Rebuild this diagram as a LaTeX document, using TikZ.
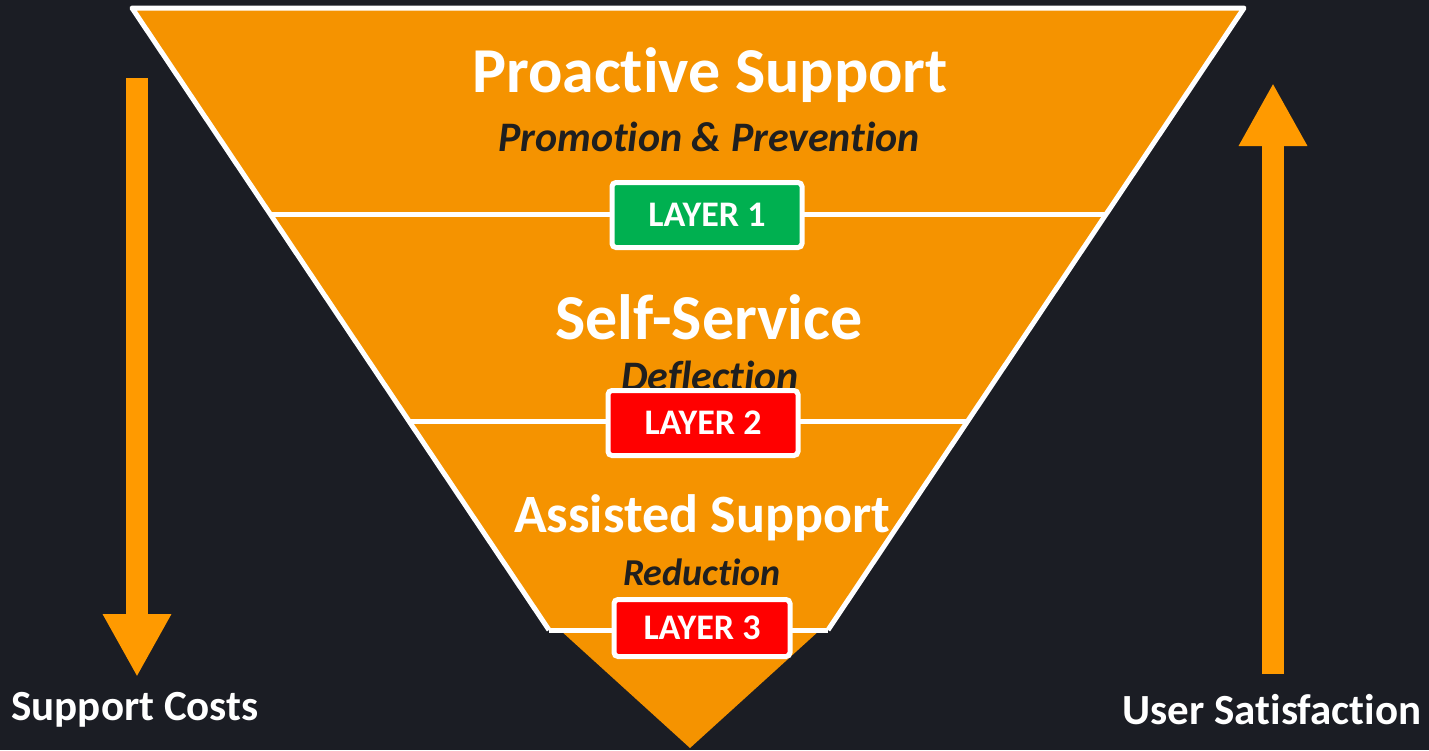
\documentclass[tikz,border=0pt]{standalone}
\usepackage{fontspec}
\setmainfont{Carlito}[Ligatures={NoCommon,NoContextual,NoRare}]
\usetikzlibrary{arrows.meta}
\definecolor{backdrop}{HTML}{1B1D24}
\definecolor{funnel}{HTML}{F59300}
\definecolor{arrowfill}{HTML}{FF9A00}
\definecolor{layergreen}{HTML}{00B050}
\definecolor{layerred}{HTML}{FF0000}
\colorlet{darktext}{black!88}

\tikzset{
    title/.style={text=white, font=\bfseries\fontsize{32}{38}\selectfont},
    subtitle/.style={text=darktext, font=\bfseries\itshape\fontsize{21}{25}\selectfont},
    sidelabel/.style={text=white, font=\bfseries\fontsize{21.5}{26}\selectfont},
    layerbox/.style={draw=white, line width=2.5pt, rounded corners=2pt, text=white,
        font=\bfseries\fontsize{18}{22}\selectfont, minimum width=95pt, minimum height=32.5pt},
    bigarrow/.style={arrowfill, line width=11pt, -{Triangle[width=32pt,length=31.5pt]}}
}

\begin{document}
\begin{tikzpicture}[x=0.5pt,y=-0.5pt]
        \useasboundingbox[fill=backdrop] (0,0) rectangle (1429,750);
        \coordinate (TL) at (132,8);
        \coordinate (TR) at (1244,8);
        \coordinate (BL) at (549,630);
        \coordinate (BR) at (828,630);
        \coordinate (tip) at (690,748);
        % funnel body
        \fill[funnel] (TL) -- (TR) -- (BR) -- (820,630) -- (tip) -- (560,630) -- (BL) -- cycle;
        \draw[white, line width=2.5pt, line join=round] (BL) -- (TL) -- (TR) -- (BR);
        \draw[white, line width=2.5pt] (BL) -- (BR);
        \draw[white, line width=2.5pt] (270,214) -- (1106,214);
        \draw[white, line width=2.5pt] (409,421) -- (968,421);
        % ~~~~~~~~~~~~~~~~~
        \node[title] (proactive) at (710,75) {Proactive Support};
        \node[subtitle] (promotion) at (709,137) {Promotion \& Prevention};
        \node[title] (selfservice) at (709,317) {Self-Service};
        \node[subtitle] (deflection) at (710,378) {Deflection};
        \node[title, font=\bfseries\fontsize{27}{32}\selectfont] (assisted) at (702,518) {Assisted Support};
        \node[subtitle, font=\bfseries\itshape\fontsize{19}{23}\selectfont] (reduction) at (702,572) {Reduction};
        % layer tags
        \node[layerbox, fill=layergreen] (layer1) at (707,215) {LAYER 1};
        \node[layerbox, fill=layerred] (layer2) at (703,423) {LAYER 2};
        \node[layerbox, fill=layerred, minimum width=88pt, minimum height=28.5pt] (layer3) at (702,628) {LAYER 3};
        % side arrows
        \coordinate (costtop) at (137,78);
        \coordinate (costtip) at (137,677);
        \coordinate (satbot) at (1273,674);
        \coordinate (sattip) at (1273,83);
        \draw[bigarrow] (costtop) -- (costtip);
        \draw[bigarrow] (satbot) -- (sattip);
        \node[sidelabel] (costs) at (135,710) {Support Costs};
        \node[sidelabel] (satisfaction) at (1272,710) {User Satisfaction};
    \end{tikzpicture}
\end{document}
